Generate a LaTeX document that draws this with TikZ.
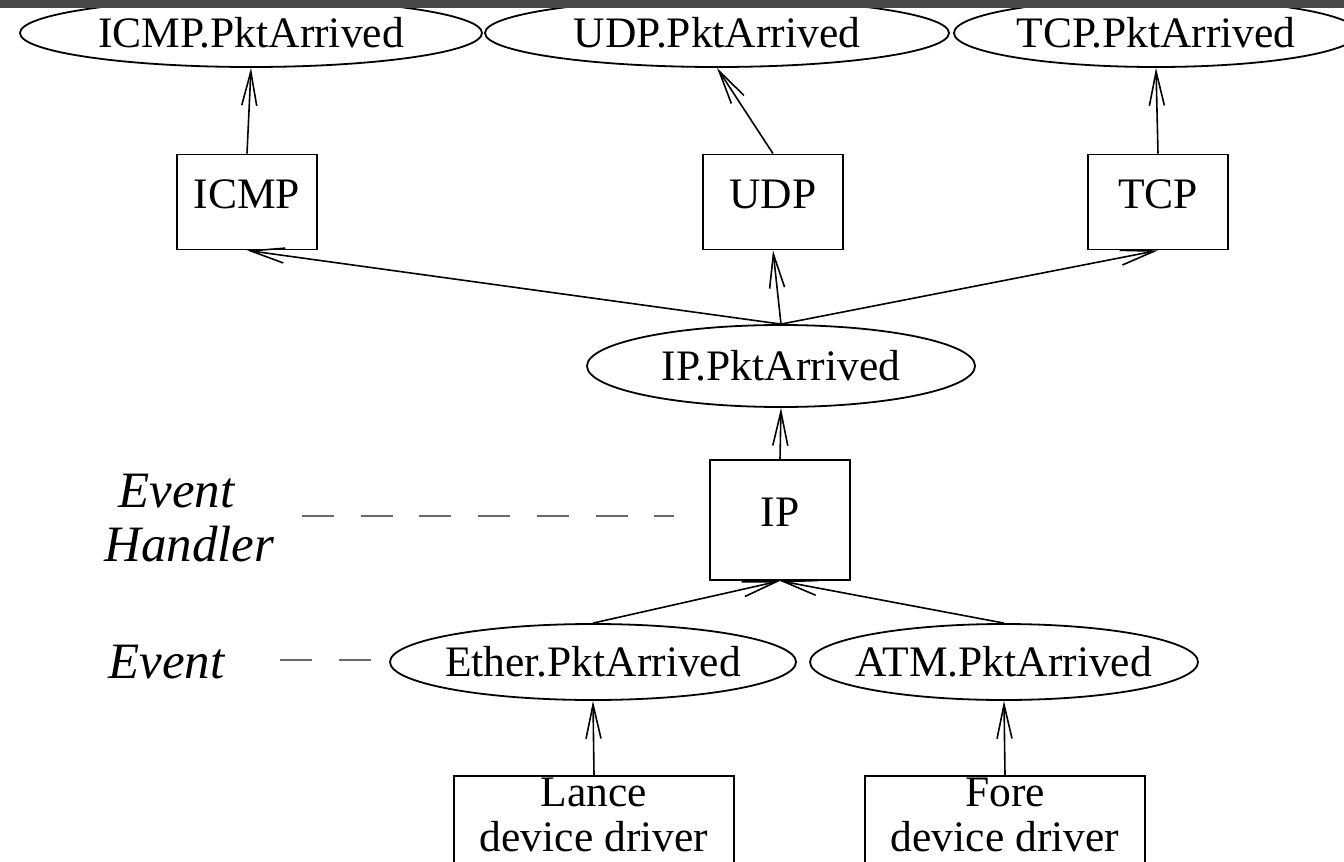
\documentclass[tikz,border=0pt]{standalone}
\usepackage{fontspec}
\setmainfont{Liberation Serif}
\usetikzlibrary{arrows.meta,shapes.geometric}
\definecolor{bandgray}{RGB}{72,72,72}
\definecolor{guidegray}{RGB}{105,105,105}
\begin{document}
\begin{tikzpicture}[x=1pt,y=-1pt,
  every node/.style={font=\fontsize{43.5}{45}\selectfont, inner sep=0pt},
  ev/.style={draw, ellipse, line width=1.8pt, inner xsep=-30pt},
  proc/.style={draw, rectangle, line width=1.8pt, minimum width=140pt, minimum height=95pt, text height=29pt, text depth=16pt},
  drv/.style={draw, rectangle, line width=1.8pt, minimum width=280pt, minimum height=140pt, anchor=north},
  conn/.style={line width=1.6pt, -{Straight Barb[length=34pt,width=15pt,line width=1.6pt]}},
  lbl/.style={font=\fontsize{51}{54}\selectfont\itshape, align=left, anchor=west},
  guide/.style={draw=guidegray, line width=2.8pt, dash pattern=on 32pt off 26.7pt}]
\useasboundingbox (0,0) rectangle (1344,862);
\fill[white] (0,0) rectangle (1344,862);
% events at top
\node[ev, minimum width=462pt, minimum height=68pt] (icmpev) at (251,33) {ICMP.PktArrived};
\node[ev, minimum width=464pt, minimum height=68pt] (udpev) at (717,33) {UDP.PktArrived};
\node[ev, minimum width=404pt, minimum height=68pt] (tcpev) at (1156,33) {TCP.PktArrived};
\fill[bandgray] (0,0) rectangle (1344,8);
% protocol handlers
\node[proc] (icmp) at (247,202) {ICMP};
\node[proc] (udp) at (773,202) {UDP};
\node[proc] (tcp) at (1158,202) {TCP};
\node[ev, minimum width=388pt, minimum height=82pt] (ipev) at (781,366) {IP.PktArrived};
\node[proc, minimum height=120pt] (ip) at (780,520) {IP};
\node[ev, minimum width=406pt, minimum height=76pt] (etherev) at (593,662) {Ether.PktArrived};
\node[ev, minimum width=388pt, minimum height=76pt] (atmev) at (1004,662) {ATM.PktArrived};
\node[drv] (lance) at (594,775) {};
\node[align=center] (lancetxt) at (594,815) {Lance\\device driver};
\node[drv] (fore) at (1005,775) {};
\node[align=center] (foretxt) at (1005,815) {Fore\\device driver};
% connectors
\draw[conn] (icmp.north) -- (icmpev.south);
\draw[conn] (udp.north) -- (udpev.south);
\draw[conn] (tcp.north) -- (tcpev.south);
\draw[conn] (ipev.north) -- (icmp.south);
\draw[conn] (ipev.north) -- (udp.south);
\draw[conn] (ipev.north) -- (tcp.south);
\draw[conn] (ip.north) -- (ipev.south);
\draw[conn] (etherev.north) -- (ip.south);
\draw[conn] (atmev.north) -- (ip.south);
\draw[conn] (lance.north) -- (etherev.south);
\draw[conn] (fore.north) -- (atmev.south);
% legend labels
\node[lbl] (handlerlbl) at (104,518) {\hspace*{14pt}Event\\Handler};
\node[lbl] (eventlbl) at (108,662) {Event};
\coordinate (hstart) at (302,516);
\coordinate (hend) at (674,516);
\coordinate (estart) at (280,660);
\coordinate (eend) at (372,660);
\draw[guide] (hstart) -- (hend);
\draw[guide] (estart) -- (eend);
\end{tikzpicture}
\end{document}
